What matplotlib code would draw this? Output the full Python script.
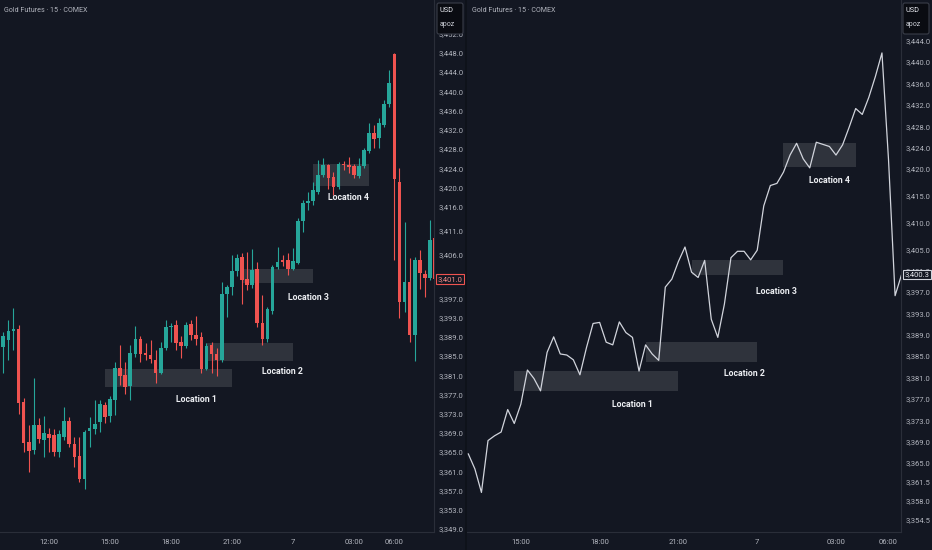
#!/usr/bin/env python3
"""Gold futures 15m: candles (left) vs close line (right) with four marked locations."""

import matplotlib

matplotlib.use("Agg")
import matplotlib.pyplot as plt  # noqa: E402
from matplotlib.patches import Rectangle, FancyBboxPatch  # noqa: E402
from matplotlib.transforms import blended_transform_factory  # noqa: E402

W, H = 932, 550
BG = "#131722"
UP = "#26a69a"
DOWN = "#ef5350"
TEXT = "#b2b5be"
EDGE = "#2a2e39"
plt.rcParams["font.family"] = ["Liberation Sans Narrow", "Roboto", "DejaVu Sans"]

TITLE = "Gold Futures · 15 · COMEX"

# OHLC of the 15-minute bars
opens = [3386.8, 3388.4, 3390.1, 3390.5, 3375.4, 3367.1, 3365.4, 3370.6, 3367.6, 3368.7,
         3368.5, 3365.1, 3368.2, 3371.5, 3366.7, 3364.2, 3359.5, 3369.3, 3369.9, 3371.3,
         3374.8, 3372.5, 3375.8, 3382.4, 3381.0, 3378.7, 3385.5, 3388.6, 3385.7, 3385.3,
         3384.2, 3381.5, 3386.6, 3391.0, 3391.4, 3387.8, 3387.1, 3391.6, 3389.4, 3389.0,
         3382.2, 3387.3, 3385.5, 3384.2, 3397.9, 3399.4, 3402.7, 3405.5, 3400.9, 3399.7,
         3403.0, 3391.9, 3388.5, 3394.4, 3403.4, 3404.9, 3404.9, 3403.0, 3404.4, 3413.1,
         3416.8, 3417.3, 3419.1, 3422.6, 3424.7, 3422.3, 3420.2, 3425.0, 3424.7, 3424.5,
         3422.4, 3424.5, 3427.7, 3431.3, 3430.4, 3433.0, 3437.3, 3447.8, 3421.2, 3396.3,
         3400.4, 3389.3, 3404.9, 3402.0, 3401.3, 3409.5]
highs = [3390.0, 3392.5, 3394.9, 3391.4, 3376.2, 3370.6, 3380.5, 3372.0, 3372.5, 3370.1,
         3369.9, 3369.7, 3374.3, 3372.4, 3368.2, 3368.2, 3369.6, 3372.3, 3375.8, 3375.8,
         3375.5, 3376.7, 3383.8, 3387.3, 3383.8, 3387.3, 3391.2, 3389.1, 3387.6, 3388.3,
         3386.2, 3388.0, 3392.5, 3391.8, 3392.5, 3389.1, 3392.1, 3392.5, 3393.3, 3390.0,
         3387.6, 3388.0, 3386.6, 3400.4, 3399.8, 3406.0, 3406.2, 3406.3, 3406.7, 3407.2,
         3404.6, 3397.7, 3395.2, 3403.9, 3407.7, 3406.0, 3406.3, 3407.4, 3413.6, 3417.4,
         3419.1, 3421.2, 3425.7, 3426.1, 3425.0, 3423.3, 3425.4, 3425.6, 3426.4, 3425.0,
         3426.1, 3428.2, 3433.4, 3433.0, 3434.4, 3438.2, 3444.5, 3447.9, 3424.0, 3412.9,
         3405.3, 3405.6, 3407.0, 3402.9, 3413.3, 3410.0]
lows = [3381.5, 3384.1, 3386.2, 3372.9, 3365.1, 3360.9, 3364.7, 3366.8, 3364.0, 3365.1,
        3364.2, 3363.9, 3367.5, 3366.1, 3362.0, 3358.8, 3357.4, 3366.1, 3368.7, 3369.2,
        3371.0, 3371.3, 3372.7, 3378.9, 3377.1, 3375.8, 3384.8, 3383.8, 3384.1, 3383.5,
        3379.4, 3381.2, 3386.2, 3388.0, 3386.2, 3384.5, 3386.6, 3388.3, 3387.3, 3381.4,
        3382.1, 3381.4, 3380.8, 3383.8, 3393.2, 3397.7, 3401.6, 3395.9, 3398.7, 3399.1,
        3391.1, 3387.3, 3388.0, 3393.7, 3403.0, 3403.6, 3401.8, 3402.9, 3404.1, 3410.8,
        3415.3, 3416.4, 3418.7, 3422.3, 3419.8, 3418.5, 3419.8, 3423.7, 3423.0, 3421.9,
        3421.9, 3424.0, 3427.1, 3428.2, 3428.2, 3432.5, 3436.8, 3404.9, 3392.8, 3394.2,
        3387.9, 3384.0, 3399.0, 3397.3, 3400.8, 3399.0]
closes = [3389.1, 3390.2, 3390.5, 3375.3, 3366.8, 3365.3, 3370.6, 3367.8, 3368.9, 3368.0,
          3365.1, 3368.7, 3371.5, 3366.7, 3363.9, 3359.5, 3369.2, 3370.1, 3370.8, 3375.0,
          3372.4, 3376.0, 3382.4, 3380.8, 3378.5, 3385.7, 3388.6, 3385.4, 3385.2, 3384.3,
          3381.5, 3386.6, 3391.1, 3391.3, 3387.6, 3387.1, 3391.4, 3389.4, 3388.5, 3382.2,
          3387.1, 3385.4, 3384.2, 3397.9, 3399.4, 3402.7, 3405.4, 3400.7, 3399.7, 3402.9,
          3391.9, 3388.5, 3394.7, 3403.4, 3404.6, 3404.6, 3403.0, 3404.8, 3413.1, 3416.9,
          3417.3, 3419.4, 3422.6, 3424.8, 3421.9, 3420.2, 3425.0, 3424.6, 3424.2, 3422.6,
          3424.5, 3427.8, 3431.3, 3430.2, 3433.4, 3437.3, 3441.7, 3421.7, 3396.3, 3400.3,
          3389.3, 3404.9, 3402.2, 3401.3, 3409.2, 3401.0]

# right panel: close line over a shorter window
LINE_FIRST, LINE_LAST = 13, 79

LEFT_TICKS = [3452, 3448, 3444, 3440, 3436, 3432, 3428, 3424, 3420, 3416, 3411, 3406,
              3401, 3397, 3393, 3389, 3385, 3381, 3377, 3373, 3369, 3365, 3361, 3357,
              3353, 3349]
RIGHT_TICKS = [3444, 3440, 3436, 3432, 3428, 3424, 3420, 3415, 3410, 3405, 3401, 3397,
               3393, 3389, 3385, 3381, 3377, 3373, 3369, 3365, 3361.5, 3358, 3354.5]

TIME_BARS = [9, 21, 33, 45, 57, 69, 77]
TIME_LABELS = ["12:00", "15:00", "18:00", "21:00", "7", "03:00", "06:00"]

ZONE_NAMES = ["Location 1", "Location 2", "Location 3", "Location 4"]
ZONE_START = [20, 40, 47, 61]
ZONE_END = [45, 57, 61, 72]
ZONE_LOW = [3378.5, 3383.9, 3400.1, 3420.3]
ZONE_HIGH = [3382.3, 3387.6, 3403.0, 3424.9]
LABEL_BAR = [38, 55, 60, 68]
LABEL_PRICE = [3376.0, 3381.7, 3397.1, 3417.9]


def style_axis(ax, ticks, xlim, ylim, tick_bars):
    ax.set_facecolor(BG)
    ax.set_xlim(*xlim)
    ax.set_ylim(*ylim)
    for s in ("top", "left"):
        ax.spines[s].set_visible(False)
    for s in ("right", "bottom"):
        ax.spines[s].set_color(EDGE)
        ax.spines[s].set_linewidth(0.8)
    ax.yaxis.tick_right()
    ax.set_yticks(ticks)
    ax.set_yticklabels([f"{v:,.1f}" for v in ticks])
    ax.set_xticks(tick_bars)
    ax.set_xticklabels(TIME_LABELS[-len(tick_bars):])
    ax.tick_params(axis="y", length=0, labelsize=5.5, colors=TEXT, pad=3)
    ax.tick_params(axis="x", length=0, labelsize=5.5, colors=TEXT, pad=5)


def draw_zones(ax):
    for name, x0, x1, lo, hi, lx, ly in zip(ZONE_NAMES, ZONE_START, ZONE_END, ZONE_LOW,
                                             ZONE_HIGH, LABEL_BAR, LABEL_PRICE):
        ax.add_patch(Rectangle((x0, lo), x1 - x0, hi - lo, facecolor="white", alpha=0.12,
                               edgecolor="none", zorder=1))
        ax.text(lx, ly, name, ha="center", va="center", fontsize=6.3, color="#eceef2",
                fontweight="bold", zorder=4)


def price_tag(ax, price, color, text_color):
    tr = blended_transform_factory(ax.transAxes, ax.transData)
    ax.text(1.008, price, f"{price:,.1f}", transform=tr, ha="left", va="center",
            fontsize=5.5, color=text_color, clip_on=False, zorder=6,
            bbox=dict(boxstyle="square,pad=0.2", facecolor=BG, edgecolor=color, lw=0.8))


fig = plt.figure(figsize=(W / 100, H / 100), dpi=100, facecolor=BG)

# left: candles
ax1 = fig.add_axes([0, 18 / H, 434 / W, 532 / H])
style_axis(ax1, LEFT_TICKS, (-0.65, 84.8), (3348.4, 3459.0), TIME_BARS)
bars = list(range(len(opens)))
cols = [UP if c >= o else DOWN for o, c in zip(opens, closes)]
ax1.vlines(bars, lows, highs, colors=cols, lw=0.8, zorder=2)
bottoms = [min(o, c) for o, c in zip(opens, closes)]
heights = [max(abs(c - o), 0.3) for o, c in zip(opens, closes)]
ax1.bar(bars, heights, bottom=bottoms, width=0.72, color=cols, zorder=3, lw=0)
draw_zones(ax1)
price_tag(ax1, closes[-1], DOWN, "#f28b88")

# right: close line
ax2 = fig.add_axes([467 / W, 18 / H, 434 / W, 532 / H])
style_axis(ax2, RIGHT_TICKS, (12.8, 78.9), (3352.1, 3451.6), TIME_BARS[1:])
ax2.plot(bars[LINE_FIRST:LINE_LAST + 1], closes[LINE_FIRST:LINE_LAST + 1],
         color="#d1d4dc", lw=0.9, zorder=3)
draw_zones(ax2)
price_tag(ax2, closes[LINE_LAST], "#d1d4dc", "#e6e8ee")

# overlay for headers and currency boxes (pixel coordinates)
ov = fig.add_axes([0, 0, 1, 1], zorder=10)
ov.set_xlim(0, W)
ov.set_ylim(H, 0)
ov.axis("off")
ov.axvline(466, color="#0e1119", lw=1.2)
for x0, title_x in ((437, 4), (903, 472)):
    ov.text(title_x, 10, TITLE, fontsize=5.1, color=TEXT, va="center", ha="left")
    ov.add_patch(FancyBboxPatch((x0, 3), 26, 31, boxstyle="round,pad=0,rounding_size=2",
                                facecolor="#0a0c12", edgecolor="#3a3e49", lw=0.8))
    ov.text(x0 + 3, 11, "USD", fontsize=5.3, color="#e6e8ee", va="center")
    ov.text(x0 + 3, 25, "apoz", fontsize=5.0, color="#c9ccd4", va="center")

fig.savefig("out.png", dpi=100, facecolor=BG)
